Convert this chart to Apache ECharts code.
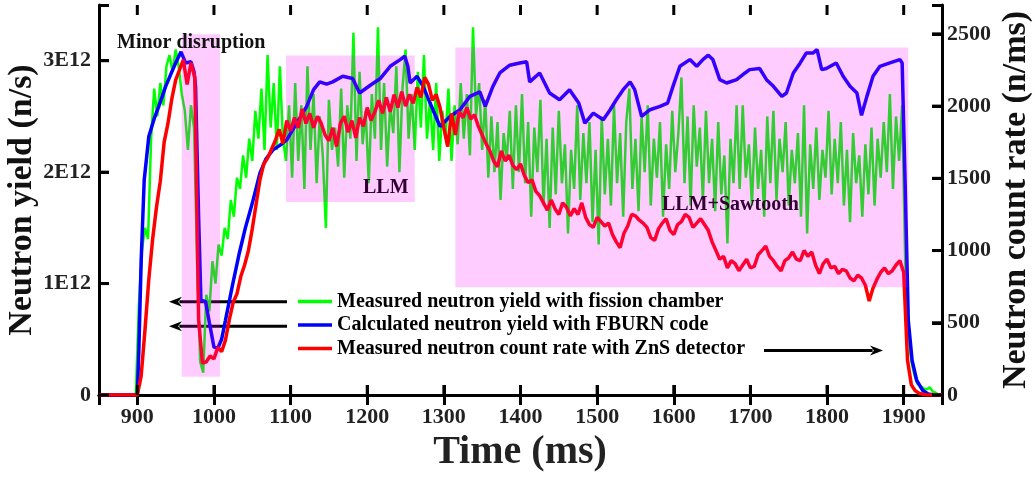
<!DOCTYPE html>
<html>
<head>
<meta charset="utf-8">
<script src="https://cdn.jsdelivr.net/npm/echarts@6/dist/echarts.min.js"></script>
<style>
html,body{margin:0;padding:0;background:#fff;}
#chart{width:1036px;height:477px;}
</style>
</head>
<body>
<div id="chart"></div>
<script>
// ---- tick labels ----
const xTicks = [900, 1000, 1100, 1200, 1300, 1400, 1500, 1600, 1700, 1800, 1900];
const yieldTicks = [0, 1, 2, 3];              // units of 1E12 n/s
const rateTicks = [0, 500, 1000, 1500, 2000, 2500];

// ---- Measured neutron yield with fission chamber (1E12 n/s), sampled every 4 ms from 850 ms ----
const greenStart = 850, greenStep = 4;
const greenYield = [
0,0,0,0,0,0,0,0,0,0,0,0,0,0.8,1.3,1.5,1.4,2.3,2.75,2.5,2.8,2.6,2.95,3.05,2.9,
3.1,2.95,2.7,2.55,2.2,2.6,2.4,1.2,0.3,0.2,0.9,0.75,1.2,1.0,1.35,1.25,1.5,1.4,1.75,1.6,1.95,1.85,2.15,1.95,2.3,
2.1,2.55,2.3,2.75,2.2,3.05,2.4,2.8,2.2,2.95,2.3,2.1,2.6,1.95,2.8,2.1,2.6,1.85,2.95,2.2,2.7,1.9,2.5,2.15,1.5,
2.65,2.2,2.4,2.05,2.75,1.95,2.6,2.3,3.25,2.1,2.9,2.25,2.55,1.9,2.7,2.3,3.3,2.2,2.8,2.05,2.6,2.35,2.95,2.0,2.75,
3.1,2.3,2.7,2.2,2.9,2.4,3.05,2.3,2.65,2.2,2.8,2.1,2.55,2.3,2.75,2.1,2.6,2.25,2.8,2.3,2.7,2.15,3.3,2.5,2.8,
2.2,2.65,1.95,2.5,2.0,2.45,1.75,2.35,2.1,2.55,1.85,2.6,2.0,2.7,1.9,2.45,1.6,2.4,2.0,2.65,1.7,2.3,1.5,2.4,1.8,
2.55,1.9,2.25,1.45,2.2,1.85,2.6,1.75,2.35,1.9,2.45,1.55,2.2,1.35,2.5,1.8,2.3,1.7,2.6,1.9,2.35,1.6,2.45,2.75,1.85,
2.3,1.65,2.5,2.0,2.6,1.7,2.3,1.95,2.45,1.6,2.25,1.85,2.55,2.0,2.35,2.85,1.9,2.5,1.7,2.6,2.05,2.4,1.75,2.55,1.9,
2.3,1.65,2.45,1.8,2.15,1.36,2.3,1.9,2.6,1.85,2.6,1.95,2.25,1.7,2.4,1.85,2.2,1.6,2.5,1.9,2.55,1.75,2.3,2.0,2.45,
1.7,2.2,1.9,2.35,1.6,2.6,1.45,2.25,1.85,2.4,1.75,2.2,1.95,2.55,1.8,2.3,1.9,2.45,1.7,2.2,1.55,2.35,1.9,2.15,1.6,
2.25,1.8,2.4,1.7,2.3,1.95,2.45,2.0,2.7,1.85,2.5,2.1,2.6,1.2,0.55,0.3,0.18,0.1,0.08,0.06,0.05,0.07,0.03,0.02,0,
0
];

// ---- Calculated neutron yield with FBURN code (1E12 n/s) ----
const blueTime = [850,900,902,905,909,915,922,928,937,945,950,957,963,970,974,976,980,983,989,994,1000,1005,1010,1015,1024,1033,1041,1050,1060,1068,1077,1086,1095,1108,1121,1130,1138,1147,1155,1168,1181,1190,1204,1217,1230,1243,1249,1253,1256,1265,1273,1282,1295,1308,1321,1334,1347,1354,1364,1373,1386,1399,1408,1412,1425,1438,1451,1464,1476,1484,1495,1508,1517,1525,1534,1543,1549,1558,1569,1582,1592,1599,1608,1621,1630,1638,1645,1651,1660,1669,1682,1693,1699,1712,1721,1730,1741,1747,1756,1765,1773,1782,1787,1793,1799,1812,1821,1830,1839,1845,1852,1860,1869,1882,1895,1898,1902,1906,1911,1917,1925,1932,1940,1950];
const blueYield = [0,0,0.4,1.2,1.93,2.32,2.48,2.59,2.77,2.9,2.98,3.08,2.98,2.99,2.9,2.77,1.6,0.85,0.84,0.65,0.43,0.42,0.5,0.67,0.98,1.27,1.5,1.72,1.99,2.12,2.2,2.24,2.29,2.44,2.59,2.74,2.81,2.79,2.81,2.86,2.84,2.71,2.78,2.84,2.95,3.01,3.04,2.95,2.8,2.86,2.77,2.62,2.41,2.5,2.56,2.68,2.72,2.59,2.77,2.89,2.96,2.98,2.99,2.81,2.89,2.71,2.65,2.74,2.62,2.44,2.53,2.47,2.56,2.65,2.74,2.81,2.74,2.5,2.56,2.59,2.62,2.77,2.95,3.01,2.95,3.01,3.05,3.01,2.83,2.8,2.83,2.89,2.92,2.93,2.83,2.77,2.68,2.71,2.89,2.98,3.07,3.07,3.1,2.92,2.93,2.98,2.86,2.77,2.71,2.51,2.68,2.86,2.95,2.98,3.01,2.98,1.87,0.67,0.31,0.13,0.04,0.01,0,0];

// ---- Measured neutron count rate with ZnS detector (n/ms), sampled every 5 ms from 850 ms ----
const redStart = 850, redStep = 5;
const redRate = [
0,0,0,0,0,0,0,0,0,0,0,130,450,800,1080,1300,1480,1750,1880,2050,
2180,2250,2320,2150,2300,2200,520,220,230,270,250,330,300,380,520,640,700,820,900,1000,
1150,1320,1490,1600,1640,1700,1760,1840,1740,1900,1830,1920,1850,1980,1880,1950,1850,1930,1880,1800,
1760,1850,1720,1880,1930,1820,1900,1780,1920,1860,1990,1900,1960,2040,1950,2060,1960,2080,1990,2100,
2000,2080,2020,2130,2060,2200,2150,2040,2080,1990,1850,1720,1950,1800,1960,1920,1990,1910,1940,1860,
1800,1740,1690,1620,1580,1690,1620,1660,1590,1560,1600,1520,1470,1490,1410,1380,1330,1280,1350,1290,
1250,1330,1300,1240,1290,1250,1330,1230,1180,1160,1230,1200,1170,1190,1110,1060,1020,1120,1170,1250,
1240,1210,1190,1160,1090,1070,1150,1190,1220,1140,1110,1180,1200,1250,1230,1160,1190,1220,1180,1140,
1060,1000,940,960,880,930,910,860,900,940,880,890,970,1000,1030,960,930,890,860,930,
950,990,940,930,1000,960,990,900,840,910,940,880,890,840,870,860,810,790,830,810,
760,650,740,800,850,880,840,860,900,930,850,240,70,30,12,5,0,0,0,0,
0
];

// ---- shaded regimes: [start ms, end ms, low, high] in 1E12 n/s ----
const boxStart = [958, 1094, 1315];
const boxEnd = [1008, 1262, 1906];
const boxLow = [0.164, 1.733, 0.967];
const boxHigh = [3.238, 3.046, 3.118];

const seriesNames = [
  'Measured neutron yield with fission chamber',
  'Calculated neutron yield with FBURN code',
  'Measured neutron count rate with ZnS detector'
];

const X_MIN = 850, X_MAX = 1950, YL_MAX = 3.5, YR_MAX = 2700;

const greenData = greenYield.map((v, i) => [greenStart + i * greenStep, v]);
const blueData = blueYield.map((v, i) => [blueTime[i], v]);
const redData = redRate.map((v, i) => [redStart + i * redStep, v]);
const boxData = boxStart.map((s, i) => [s, boxEnd[i], boxLow[i], boxHigh[i]]);

const FONT = 'Liberation Serif';
const axisLineStyle = { color: '#000', width: 3 };
const TICK_LEN = 10, TICK_W = 3;
const tickStyle = { show: true, inside: true, length: TICK_LEN, lineStyle: { color: '#000', width: TICK_W } };

const chart = echarts.init(document.getElementById('chart'));

function arrow(x1, x2, y) {
  const dir = x2 > x1 ? 1 : -1;
  const head = 13, half = 5;
  return {
    type: 'group', z: 100,
    children: [
      { type: 'line', shape: { x1: x1, y1: y, x2: x2 - dir * head * 0.8, y2: y }, style: { stroke: '#000', lineWidth: 3 } },
      { type: 'polygon', shape: { points: [[x2, y], [x2 - dir * head, y - half], [x2 - dir * head * 0.7, y], [x2 - dir * head, y + half]] }, style: { fill: '#000' } }
    ]
  };
}

const graphicBase = [
  { type: 'text', x: 22, y: 200, rotation: Math.PI / 2, z: 100,
    style: { text: 'Neutron yield (n/s)', fontFamily: FONT, fontWeight: 'bold', fontSize: 34, fill: '#111', align: 'center', verticalAlign: 'middle' } },
  { type: 'text', x: 1016, y: 200, rotation: Math.PI / 2, z: 100,
    style: { text: 'Neutron count rate (n/ms)', fontFamily: FONT, fontWeight: 'bold', fontSize: 34, fill: '#111', align: 'center', verticalAlign: 'middle' } },
  { type: 'text', x: 520, y: 453, z: 100,
    style: { text: 'Time (ms)', fontFamily: FONT, fontWeight: 'bold', fontSize: 40, fill: '#222', align: 'center', verticalAlign: 'middle' } },
  { type: 'text', x: 117, y: 42.5, z: 100,
    style: { text: 'Minor disruption', fontFamily: FONT, fontWeight: 'bold', fontSize: 20, fill: '#111', align: 'left', verticalAlign: 'middle' } },
  { type: 'text', x: 363, y: 188, z: 100,
    style: { text: 'LLM', fontFamily: FONT, fontWeight: 'bold', fontSize: 20, fill: '#330033', align: 'left', verticalAlign: 'middle' } },
  { type: 'text', x: 662, y: 205, z: 100,
    style: { text: 'LLM+Sawtooth', fontFamily: FONT, fontWeight: 'bold', fontSize: 20, fill: '#330033', align: 'left', verticalAlign: 'middle' } },
  arrow(287, 169, 301.7),
  arrow(287, 169, 326.3),
  arrow(764, 883, 350.5)
];

const option = {
  animation: false,
  grid: { left: 99, right: 94, top: 5, bottom: 82 },
  legend: {
    data: seriesNames,
    orient: 'vertical',
    left: 298, top: 291.5,
    padding: 0,
    icon: 'rect',
    itemWidth: 34, itemHeight: 3.5, itemGap: 3.5,
    selectedMode: false,
    textStyle: { fontFamily: FONT, fontWeight: 'bold', fontSize: 20, color: '#000', lineHeight: 20 }
  },
  xAxis: [
    {
      type: 'value', position: 'bottom', min: X_MIN, max: X_MAX, minInterval: 100, maxInterval: 100,
      axisLine: { lineStyle: axisLineStyle },
      axisTick: tickStyle,
      axisLabel: { customValues: xTicks, margin: 11, fontFamily: FONT, fontWeight: 'bold', fontSize: 22, color: '#222',
        formatter: v => String(v) },
      splitLine: { show: false }
    },
    {
      type: 'value', position: 'top', min: X_MIN, max: X_MAX, minInterval: 100, maxInterval: 100,
      axisLine: { lineStyle: axisLineStyle },
      axisTick: tickStyle,
      axisLabel: { show: false },
      splitLine: { show: false }
    }
  ],
  yAxis: [
    {
      type: 'value', position: 'left', min: 0, max: YL_MAX, minInterval: 1, maxInterval: 1,
      axisLine: { show: true, lineStyle: axisLineStyle },
      axisTick: tickStyle,
      axisLabel: { customValues: yieldTicks, margin: 8, fontFamily: FONT, fontWeight: 'bold', fontSize: 22, color: '#222',
        formatter: v => v === 0 ? '0' : v + 'E12' },
      splitLine: { show: false }
    },
    {
      type: 'value', position: 'right', min: 0, max: YR_MAX, minInterval: 500, maxInterval: 500,
      axisLine: { show: true, lineStyle: axisLineStyle },
      axisTick: tickStyle,
      axisLabel: { customValues: rateTicks, margin: 5, fontFamily: FONT, fontWeight: 'bold', fontSize: 22, color: '#222',
        formatter: v => String(v) },
      splitLine: { show: false }
    }
  ],
  series: [
    {
      name: seriesNames[0], type: 'line', xAxisIndex: 0, yAxisIndex: 0, data: greenData,
      showSymbol: false, z: 3, lineStyle: { color: '#00ff00', width: 2.5 }, itemStyle: { color: '#00ff00' }
    },
    {
      name: seriesNames[1], type: 'line', xAxisIndex: 0, yAxisIndex: 0, data: blueData,
      showSymbol: false, z: 4, lineStyle: { color: '#0000ff', width: 3.5 }, itemStyle: { color: '#0000ff' }
    },
    {
      name: seriesNames[2], type: 'line', xAxisIndex: 0, yAxisIndex: 1, data: redData,
      showSymbol: false, z: 5, lineStyle: { color: '#ff0000', width: 3.5 }, itemStyle: { color: '#ff0000' }
    },
    {
      name: 'regimes', type: 'custom', xAxisIndex: 0, yAxisIndex: 0, data: boxData, z: 10, silent: true,
      encode: { x: [0, 1], y: [2, 3] },
      renderItem: function (params, api) {
        const p0 = api.coord([api.value(0), api.value(3)]);
        const p1 = api.coord([api.value(1), api.value(2)]);
        return { type: 'rect', shape: { x: p0[0], y: p0[1], width: p1[0] - p0[0], height: p1[1] - p0[1] },
          style: { fill: 'rgba(255,0,255,0.2)' } };
      }
    }
  ],
  graphic: graphicBase
};

chart.setOption(option);

// extra inward tick marks positioned through the axes' scales (coincide with the axis ticks)
try {
  const toX = v => { const r = chart.convertToPixel({ xAxisIndex: 0 }, v); return Array.isArray(r) ? r[0] : r; };
  const toYL = v => { const r = chart.convertToPixel({ yAxisIndex: 0 }, v); return Array.isArray(r) ? r[1] : r; };
  const toYR = v => { const r = chart.convertToPixel({ yAxisIndex: 1 }, v); return Array.isArray(r) ? r[1] : r; };
  const xL = toX(X_MIN), xR = toX(X_MAX), yB = toYL(0), yT = toYL(YL_MAX);
  const ticks = [];
  const rect = (x, y, w, h) => ({ type: 'rect', z: 100, shape: { x: x, y: y, width: w, height: h }, style: { fill: '#000' } });
  xTicks.forEach(v => {
    const px = toX(v);
    ticks.push(rect(px - TICK_W / 2, yB - TICK_LEN, TICK_W, TICK_LEN));
    ticks.push(rect(px - TICK_W / 2, yT, TICK_W, TICK_LEN));
  });
  yieldTicks.forEach(v => { const py = toYL(v); ticks.push(rect(xL, py - TICK_W / 2, TICK_LEN, TICK_W)); });
  rateTicks.forEach(v => { const py = toYR(v); ticks.push(rect(xR - TICK_LEN, py - TICK_W / 2, TICK_LEN, TICK_W)); });
  if (ticks.every(t => isFinite(t.shape.x) && isFinite(t.shape.y))) {
    chart.setOption({ graphic: graphicBase.concat(ticks) });
  }
} catch (e) { /* decorative */ }
</script>
</body>
</html>
